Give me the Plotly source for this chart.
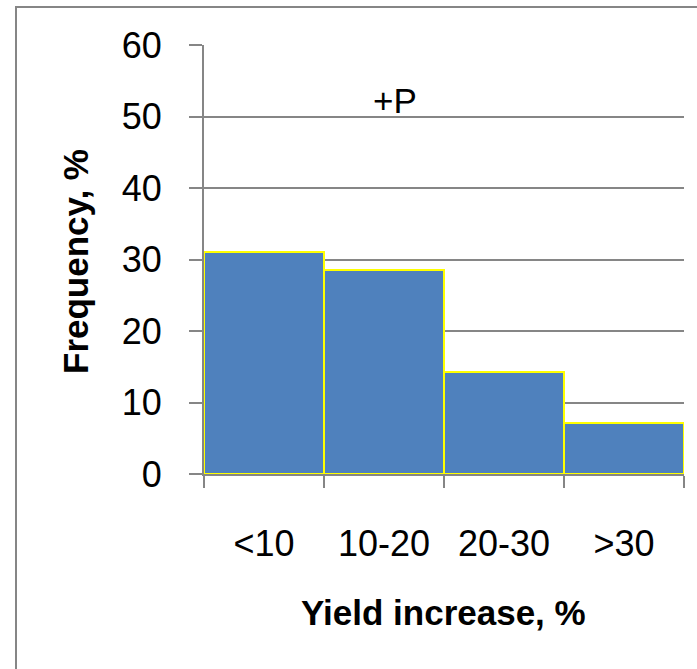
import plotly.graph_objects as go

# Data
categories = ["<10", "10-20", "20-30", ">30"]
frequency = [31.0, 28.6, 14.2, 7.1]
y_ticks = [0, 10, 20, 30, 40, 50, 60]

# Canvas and plot-area geometry (pixels)
W, H = 697, 669
L, R, T, B = 204, 13, 45, 195
PW, PH = W - L - R, H - T - B

GRAY = "#868686"
FONT = "Liberation Sans"


def px(x):
    """pixel x -> paper x"""
    return (x - L) / PW


def py(y):
    """pixel y -> paper y"""
    return (H - B - y) / PH


fig = go.Figure(
    go.Bar(
        x=categories,
        y=frequency,
        width=1,
        marker=dict(color="#4F81BD", line=dict(color="#FFFF00", width=2)),
        hoverinfo="skip",
    )
)

fig.update_layout(
    width=W,
    height=H,
    margin=dict(l=L, r=R, t=T, b=B, pad=0),
    paper_bgcolor="white",
    plot_bgcolor="white",
    bargap=0,
    showlegend=False,
    font=dict(family=FONT, color="black"),
)

fig.update_xaxes(
    type="category",
    range=[-0.5, 3.5],
    tickson="boundaries",
    ticks="outside",
    ticklen=12,
    tickwidth=2,
    tickcolor=GRAY,
    showline=True,
    linecolor=GRAY,
    linewidth=2,
    showgrid=False,
    tickfont=dict(size=36, family=FONT, color="black"),
    ticklabelstandoff=37,
)

fig.update_yaxes(
    range=[0, 60],
    tickvals=y_ticks,
    ticks="outside",
    ticklen=13,
    tickwidth=2,
    tickcolor=GRAY,
    showline=True,
    linecolor=GRAY,
    linewidth=2,
    showgrid=True,
    gridcolor=GRAY,
    gridwidth=2,
    zeroline=False,
    tickfont=dict(size=36, family=FONT, color="black"),
    ticklabelstandoff=20,
)

# Outer chart frame
fig.add_shape(
    type="rect",
    xref="paper", yref="paper",
    x0=px(16), x1=px(740), y0=py(720), y1=py(7),
    line=dict(color=GRAY, width=2),
    fillcolor="rgba(0,0,0,0)",
    layer="below",
)

# Treatment label and axis titles
fig.add_annotation(
    text="+P", xref="paper", yref="paper", x=px(395), y=py(100),
    xanchor="center", yanchor="middle", showarrow=False,
    font=dict(size=35, family=FONT, color="black"),
)
fig.add_annotation(
    text="<b>Frequency, %</b>", xref="paper", yref="paper", x=px(75), y=py(262),
    xanchor="center", yanchor="middle", textangle=-90, showarrow=False,
    font=dict(size=35, family=FONT, color="black"),
)
fig.add_annotation(
    text="<b>Yield increase, %</b>", xref="paper", yref="paper", x=px(443), y=py(612),
    xanchor="center", yanchor="middle", showarrow=False,
    font=dict(size=35, family=FONT, color="black"),
)

fig.write_html("out.html")
